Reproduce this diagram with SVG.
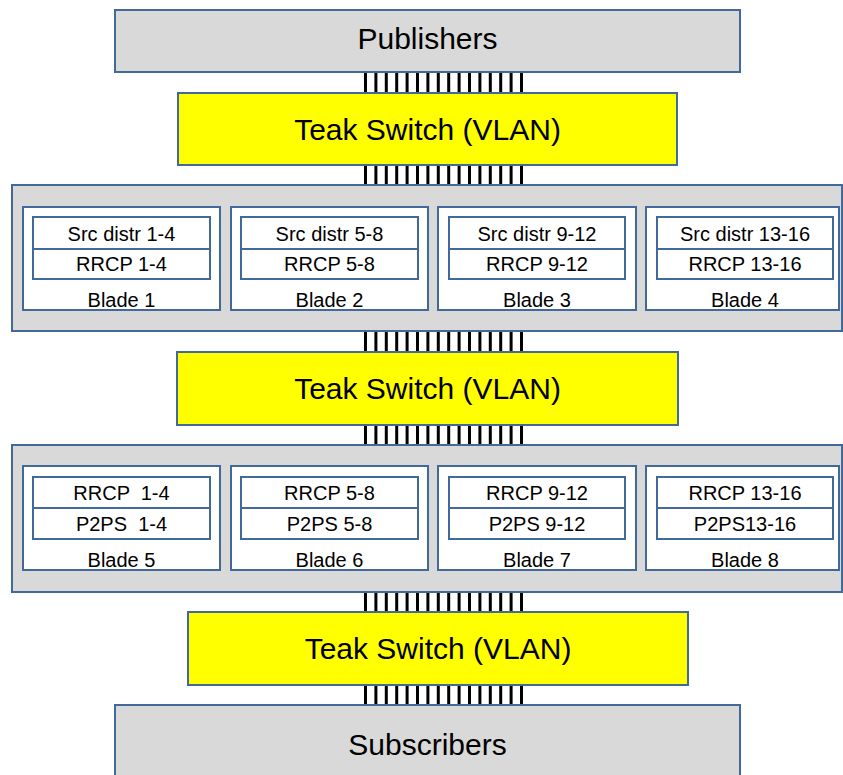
<svg xmlns="http://www.w3.org/2000/svg" width="843" height="775" viewBox="0 0 843 775">
<defs>
<style>
.gray{fill:#d9d9d9;stroke:#41699a;stroke-width:2}
.yel{fill:#ffff00;stroke:#41699a;stroke-width:2}
.wht{fill:#ffffff;stroke:#41699a;stroke-width:2}
.big{font-family:"Liberation Sans",Arial,sans-serif;font-size:30px;fill:#000;text-anchor:middle}
.sm{font-family:"Liberation Sans",Arial,sans-serif;font-size:20px;fill:#000;text-anchor:middle;white-space:pre}
.bus{stroke:#000;stroke-width:3;fill:none}
</style>
<path id="bundle" d="M365.5,0v21M375.9,0v21M386.3,0v21M396.7,0v21M407.1,0v21M417.5,0v21M427.9,0v21M438.3,0v21M448.7,0v21M459.1,0v21M469.5,0v21M479.9,0v21M490.3,0v21M500.7,0v21M511.1,0v21M521.5,0v21"/>
</defs>
<rect width="843" height="775" fill="#ffffff"/>
<g id="connectors" class="bus">
<use href="#bundle" y="72"/>
<use href="#bundle" y="165"/>
<use href="#bundle" y="331"/>
<use href="#bundle" y="425"/>
<use href="#bundle" y="592"/>
<use href="#bundle" y="685"/>
</g>
<g id="publishers">
<rect class="gray" x="115" y="10" width="625" height="62"/>
<text class="big" x="427.5" y="49">Publishers</text>
</g>
<g id="switch1">
<rect class="yel" x="178" y="93" width="499" height="72"/>
<text class="big" x="427.5" y="140">Teak Switch (VLAN)</text>
</g>
<g id="bladegroup1">
<rect class="gray" x="12" y="185" width="830" height="146"/>
</g>
<g id="blade1">
<rect class="wht" x="23" y="207" width="197" height="103"/>
<rect class="wht" x="33" y="217" width="177" height="32"/>
<rect class="wht" x="33" y="249" width="177" height="30"/>
<text class="sm" x="121.5" y="241">Src distr 1-4</text>
<text class="sm" x="121.5" y="271">RRCP 1-4</text>
<text class="sm" x="121.5" y="307">Blade 1</text>
</g>
<g id="blade2">
<rect class="wht" x="231" y="207" width="197" height="103"/>
<rect class="wht" x="241" y="217" width="177" height="32"/>
<rect class="wht" x="241" y="249" width="177" height="30"/>
<text class="sm" x="329.5" y="241">Src distr 5-8</text>
<text class="sm" x="329.5" y="271">RRCP 5-8</text>
<text class="sm" x="329.5" y="307">Blade 2</text>
</g>
<g id="blade3">
<rect class="wht" x="438" y="207" width="198" height="103"/>
<rect class="wht" x="449" y="217" width="176" height="32"/>
<rect class="wht" x="449" y="249" width="176" height="30"/>
<text class="sm" x="537" y="241">Src distr 9-12</text>
<text class="sm" x="537" y="271">RRCP 9-12</text>
<text class="sm" x="537" y="307">Blade 3</text>
</g>
<g id="blade4">
<rect class="wht" x="646" y="207" width="193" height="103"/>
<rect class="wht" x="657" y="217" width="176" height="32"/>
<rect class="wht" x="657" y="249" width="176" height="30"/>
<text class="sm" x="745" y="241">Src distr 13-16</text>
<text class="sm" x="745" y="271">RRCP 13-16</text>
<text class="sm" x="745" y="307">Blade 4</text>
</g>
<g id="switch2">
<rect class="yel" x="177" y="352" width="501" height="73"/>
<text class="big" x="427.5" y="399">Teak Switch (VLAN)</text>
</g>
<g id="bladegroup2">
<rect class="gray" x="12" y="445" width="830" height="147"/>
</g>
<g id="blade5">
<rect class="wht" x="23" y="466" width="197" height="104"/>
<rect class="wht" x="33" y="477" width="177" height="31"/>
<rect class="wht" x="33" y="508" width="177" height="31"/>
<text class="sm" x="121.5" y="500">RRCP  1-4</text>
<text class="sm" x="121.5" y="531">P2PS  1-4</text>
<text class="sm" x="121.5" y="567">Blade 5</text>
</g>
<g id="blade6">
<rect class="wht" x="231" y="466" width="197" height="104"/>
<rect class="wht" x="241" y="477" width="177" height="31"/>
<rect class="wht" x="241" y="508" width="177" height="31"/>
<text class="sm" x="329.5" y="500">RRCP 5-8</text>
<text class="sm" x="329.5" y="531">P2PS 5-8</text>
<text class="sm" x="329.5" y="567">Blade 6</text>
</g>
<g id="blade7">
<rect class="wht" x="438" y="466" width="198" height="104"/>
<rect class="wht" x="449" y="477" width="176" height="31"/>
<rect class="wht" x="449" y="508" width="176" height="31"/>
<text class="sm" x="537" y="500">RRCP 9-12</text>
<text class="sm" x="537" y="531">P2PS 9-12</text>
<text class="sm" x="537" y="567">Blade 7</text>
</g>
<g id="blade8">
<rect class="wht" x="646" y="466" width="193" height="104"/>
<rect class="wht" x="657" y="477" width="176" height="31"/>
<rect class="wht" x="657" y="508" width="176" height="31"/>
<text class="sm" x="745" y="500">RRCP 13-16</text>
<text class="sm" x="745" y="531">P2PS13-16</text>
<text class="sm" x="745" y="567">Blade 8</text>
</g>
<g id="switch3">
<rect class="yel" x="188" y="612" width="500" height="73"/>
<text class="big" x="438" y="659">Teak Switch (VLAN)</text>
</g>
<g id="subscribers">
<rect class="gray" x="115" y="705" width="625" height="80"/>
<text class="big" x="427.5" y="755">Subscribers</text>
</g>
</svg>
